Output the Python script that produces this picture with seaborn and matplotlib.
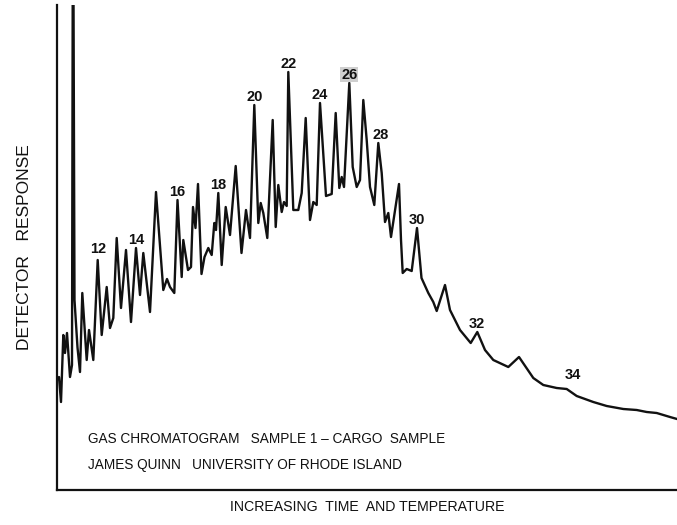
import matplotlib
matplotlib.use("Agg")
import matplotlib.pyplot as plt
import numpy as np
import pandas as pd
import seaborn as sns

# Trace (time in arbitrary minutes, response in arbitrary units)
time = [0.0, 0.2, 0.4, 0.63, 0.8, 1.0, 1.3, 1.5, 1.6, 1.75, 2.05, 2.3, 2.53, 2.97, 3.2, 3.63,
        4.07, 4.47, 4.97, 5.3, 5.63, 5.97, 6.4, 6.9, 7.4, 7.9, 8.3, 8.63, 9.3, 9.9, 10.63, 11.0,
        11.3, 11.73, 12.05, 12.47, 12.63, 13.1, 13.4, 13.6, 13.85, 14.1, 14.45, 14.75, 15.13,
        15.47, 15.73, 15.9, 16.13, 16.47, 16.87, 17.3, 17.87, 18.45, 18.9, 19.3, 19.73, 20.13,
        20.37, 20.63, 21.03, 21.57, 21.87, 22.13, 22.47, 22.7, 22.97, 23.13, 23.63, 24.13,
        24.47, 24.87, 25.3, 25.63, 25.97, 26.3, 26.9, 27.47, 27.87, 28.23, 28.47, 28.7, 29.23,
        29.57, 29.97, 30.3, 30.63, 30.97, 31.3, 31.73, 32.13, 32.47, 32.8, 33.13, 33.4, 34.2,
        34.4, 34.57, 34.97, 35.47, 36.0, 36.45, 37.13, 37.63, 37.97, 38.8, 39.3, 40.3, 41.37,
        42.03, 42.8, 43.63, 45.13, 46.2, 47.63, 48.63, 49.97, 50.97, 51.97, 53.63, 54.97,
        56.63, 57.97, 58.97, 59.97, 60.63, 61.3, 62.0]
response = [22.0, 22.6, 17.6, 31.0, 27.4, 31.4, 22.6, 25.0, 130.0, 38.0, 28.5, 23.6, 39.4, 26.0,
            32.0, 26.0, 46.0, 31.0, 40.6, 32.4, 34.4, 50.4, 36.4, 48.0, 33.6, 48.4, 39.0, 47.4,
            35.6, 59.6, 40.0, 42.2, 40.6, 39.4, 58.0, 42.6, 50.0, 44.0, 44.6, 56.6, 52.4, 61.2,
            43.2, 46.6, 48.4, 47.0, 53.4, 52.0, 59.4, 45.0, 56.6, 51.0, 64.8, 47.4, 56.0, 50.4,
            77.0, 53.4, 57.4, 55.4, 50.4, 74.0, 52.6, 61.0, 55.6, 57.6, 56.8, 83.6, 56.0, 56.0,
            59.4, 74.4, 54.0, 57.6, 57.0, 77.4, 58.8, 59.2, 75.4, 60.4, 62.6, 60.6, 81.4, 64.6,
            60.6, 62.0, 78.0, 70.0, 60.6, 57.0, 69.4, 63.4, 53.6, 55.4, 50.6, 61.2, 50.0, 43.4,
            44.2, 43.8, 52.4, 42.4, 39.4, 37.6, 35.8, 41.0, 36.0, 32.0, 29.4, 31.6, 28.0, 26.0,
            24.6, 26.6, 22.4, 21.0, 20.4, 20.2, 18.8, 17.6, 16.8, 16.2, 16.0, 15.6, 15.4, 15.0,
            14.6, 14.2]

# carbon number labels and the retention time of the peak they mark
carbon = ["12", "14", "16", "18", "20", "22", "24", "26", "28", "30", "32", "34"]
peak_time = [4.07, 7.9, 12.05, 16.13, 19.73, 23.13, 26.3, 29.23, 32.13, 36.0, 42.03, 51.6]

df = pd.DataFrame({"time": time, "response": response})

sns.set_style("white")
plt.rcParams["font.family"] = ["Liberation Sans", "DejaVu Sans"]
ink = "#111111"

fig = plt.figure(figsize=(6.77, 5.25), dpi=100)
ax = fig.add_axes([57 / 677, 35 / 525, 620 / 677, 485 / 525])

sns.lineplot(data=df, x="time", y="response", ax=ax, color=ink, linewidth=1.7,
             sort=False, estimator=None)

ax.set_xlim(0, 62)
ax.set_ylim(0, 97)
ax.set_xticks([])
ax.set_yticks([])
sns.despine(ax=ax, top=True, right=True)
for side in ["left", "bottom"]:
    ax.spines[side].set_color(ink)
    ax.spines[side].set_linewidth(1.6)

# peak labels
for lab, t in zip(carbon, peak_time):
    r = np.interp(t, time, response)
    lift = 13 if lab == "34" else (8 if lab == "12" else 6)
    dx = 2 if lab == "28" else 0
    box = None
    if lab == "26":
        box = dict(boxstyle="square,pad=0.05", facecolor="#cfcfcf", edgecolor="none")
    ax.annotate(lab, (t, r), xytext=(dx, lift), textcoords="offset points",
                ha="center", va="center", fontsize=10.5, fontweight="bold",
                color=ink, bbox=box)

ax.text(0.05, 0.105, "GAS CHROMATOGRAM   SAMPLE 1 \u2013 CARGO  SAMPLE", transform=ax.transAxes,
        fontsize=9.8, color=ink, va="center")
ax.text(0.05, 0.052, "JAMES QUINN   UNIVERSITY OF RHODE ISLAND", transform=ax.transAxes,
        fontsize=9.8, color=ink, va="center")

ax.set_xlabel("INCREASING  TIME  AND TEMPERATURE", fontsize=10.2, color=ink, labelpad=7)
ax.set_ylabel("DETECTOR   RESPONSE", fontsize=12.5, color=ink, labelpad=18)

fig.savefig("out.png", dpi=100)
